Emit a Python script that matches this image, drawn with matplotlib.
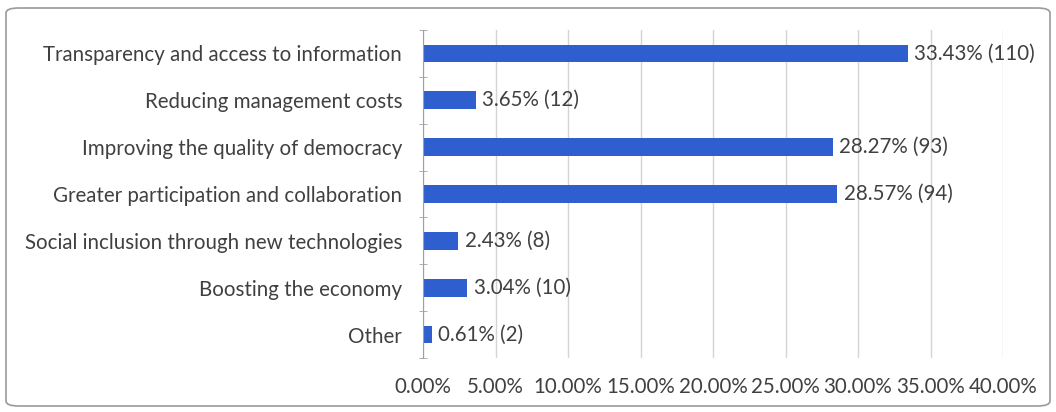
import matplotlib.pyplot as plt
from matplotlib.patches import FancyBboxPatch
from matplotlib.ticker import FixedLocator
import numpy as np

categories = [
    "Transparency and access to information",
    "Reducing management costs",
    "Improving the quality of democracy",
    "Greater participation and collaboration",
    "Social inclusion through new technologies",
    "Boosting the economy",
    "Other",
]
percentages = [33.43, 3.65, 28.27, 28.57, 2.43, 3.04, 0.61]
counts = [110, 12, 93, 94, 8, 10, 2]
x_ticks = [0, 5, 10, 15, 20, 25, 30, 35, 40]

plt.rcParams['font.family'] = ['Lato', 'DejaVu Sans']
text_color = '#404040'
bar_color = '#2F5FCF'
fs = 14.8

fig = plt.figure(figsize=(10.56, 4.12), dpi=100)
ax = fig.add_axes([423 / 1056, 1 - 358 / 412, (1003 - 423) / 1056, (358 - 30) / 412])

y = np.arange(len(categories))
ax.barh(y, percentages, height=0.38, color=bar_color, zorder=3)
for yi, p, c in zip(y, percentages, counts):
    ax.text(p + 0.45, yi, f"{p:.2f}% ({c})", va='center', ha='left',
            fontsize=fs, color=text_color, zorder=4)

ax.set_ylim(len(categories) - 0.5, -0.5)
ax.set_xlim(0, 40)
ax.set_yticks(y)
ax.set_yticklabels(categories, fontsize=fs, color=text_color)
ax.yaxis.set_minor_locator(FixedLocator(np.arange(-0.5, len(categories), 1.0)))
ax.tick_params(axis='y', which='major', length=0, pad=15)
ax.tick_params(axis='y', which='minor', length=6, direction='inout', color='#A0A0A0')

ax.set_xticks(x_ticks)
ax.set_xticklabels([f"{t:.2f}%" for t in x_ticks], fontsize=fs, color=text_color)
ax.tick_params(axis='x', length=0, pad=14)
ax.grid(axis='x', color='#D4D4D4', linewidth=1, zorder=0)

for side in ['top', 'right', 'bottom']:
    ax.spines[side].set_visible(False)
ax.spines['left'].set_color('#A0A0A0')
ax.spines['left'].set_zorder(5)

frame = FancyBboxPatch((6 / 1056, 6 / 412), 1044 / 1056, 398 / 412,
                       boxstyle="round,pad=0,rounding_size=0.012",
                       transform=fig.transFigure, fill=False,
                       edgecolor='#9A9A9A', linewidth=1.2)
fig.patches.append(frame)

fig.savefig('out.png', dpi=100)
